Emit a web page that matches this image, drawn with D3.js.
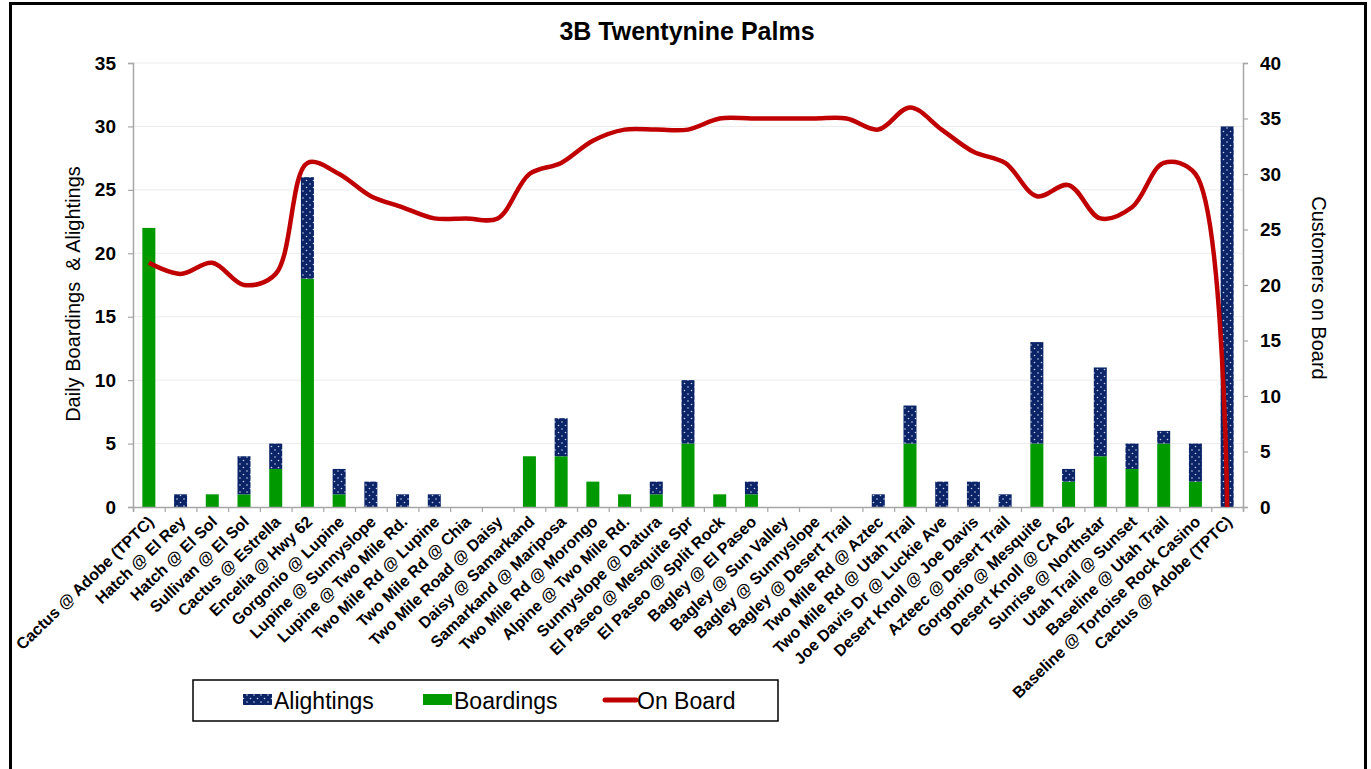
<!DOCTYPE html>
<html><head><meta charset="utf-8">
<script src="https://cdn.jsdelivr.net/npm/d3@7/dist/d3.min.js"></script>
<style>
html,body{margin:0;padding:0;background:#fff;}
svg{display:block;font-family:"Liberation Sans",Arial,sans-serif;}
</style></head>
<body><svg id="chart" width="1371" height="769"></svg>
<script>
const categories = ["Cactus @ Adobe (TPTC)","Hatch @ El Rey","Hatch @ El Sol","Sullivan @ El Sol","Cactus @ Estrella","Encelia @ Hwy 62","Gorgonio @ Lupine","Lupine @ Sunnyslope","Lupine @ Two Mile Rd.","Two Mile Rd @ Lupine","Two Mile Rd @ Chia","Two Mile Road @ Daisy","Daisy @ Samarkand","Samarkand @ Mariposa","Two Mile Rd @ Morongo","Alpine @ Two Mile Rd.","Sunnyslope @ Datura","El Paseo @ Mesquite Spr","El Paseo @ Split Rock","Bagley @ El Paseo","Bagley @ Sun Valley","Bagley @ Sunnyslope","Bagley @ Desert Trail","Two Mile Rd @ Aztec","Two Mile Rd @ Utah Trail","Joe Davis Dr @ Luckie Ave","Desert Knoll @ Joe Davis","Azteec @ Desert Trail","Gorgonio @ Mesquite","Desert Knoll @ CA 62","Sunrise @ Northstar","Utah Trail @ Sunset","Baseline @ Utah Trail","Baseline @ Tortoise Rock Casino","Cactus @ Adobe (TPTC)"];
const boardings  = [22,0,1,1,3,18,1,0,0,0,0,0,4,4,2,1,1,5,1,1,0,0,0,0,5,0,0,0,5,2,4,3,5,2,0];
const alightings = [0,1,0,3,2,8,2,2,1,1,0,0,0,3,0,0,1,5,0,1,0,0,0,1,3,2,2,1,8,1,7,2,1,3,30];
const onBoard    = [22,21,22,20,21,31,30,28,27,26,26,26,30,31,33,34,34,34,35,35,35,35,35,34,36,34,32,31,28,29,26,27,31,30,0];
const leftTicks  = [0,5,10,15,20,25,30,35];
const rightTicks = [0,5,10,15,20,25,30,35,40];

const svg = d3.select("#chart");
const L = 133, R = 1243, T = 63, B = 507;

// pattern
const defs = svg.append("defs");
const pat = defs.append("pattern").attr("id","dots").attr("patternUnits","userSpaceOnUse")
  .attr("width",7).attr("height",7);
pat.append("rect").attr("width",7).attr("height",7).attr("fill","#0b2468");
pat.append("circle").attr("cx",2).attr("cy",2).attr("r",0.8).attr("fill","#c8d0e8");
pat.append("circle").attr("cx",5.5).attr("cy",5.5).attr("r",0.8).attr("fill","#c8d0e8");

// frame
svg.append("rect").attr("x",10.5).attr("y",3.5).attr("width",1355).attr("height",800)
  .attr("fill","none").attr("stroke","#000").attr("stroke-width",3);

const x = d3.scaleBand().domain(d3.range(categories.length)).range([L,R]).paddingInner(0.59).paddingOuter(0.295);
const xb = d3.scaleLinear().domain([0,categories.length]).range([L,R]);
const yL = d3.scaleLinear().domain([0,35]).range([B,T]);
const yR = d3.scaleLinear().domain([0,40]).range([B,T]);

// gridlines
svg.append("g").selectAll("line").data(leftTicks.slice(1)).join("line")
  .attr("x1",L).attr("x2",R).attr("y1",d=>yL(d)).attr("y2",d=>yL(d))
  .attr("stroke","#ececec").attr("stroke-width",1);

// bars
const stack = categories.map((c,i)=>({i, b:boardings[i], a:alightings[i]}));
svg.append("g").selectAll("rect").data(stack).join("rect")
  .attr("x",d=>x(d.i)).attr("width",x.bandwidth())
  .attr("y",d=>yL(d.b)).attr("height",d=>yL(0)-yL(d.b)).attr("fill","#009a00");
svg.append("g").selectAll("rect").data(stack).join("rect")
  .attr("x",d=>x(d.i)).attr("width",x.bandwidth())
  .attr("y",d=>yL(d.b+d.a)).attr("height",d=>yL(d.b)-yL(d.b+d.a)).attr("fill","url(#dots)");

// axes
const axL = svg.append("g").attr("transform",`translate(${L},0)`)
  .call(d3.axisLeft(yL).tickValues(leftTicks).tickSize(5).tickPadding(12));
const axR = svg.append("g").attr("transform",`translate(${R},0)`)
  .call(d3.axisRight(yR).tickValues(rightTicks).tickSize(5).tickPadding(12));
const axB = svg.append("g").attr("transform",`translate(0,${B})`)
  .call(d3.axisBottom(xb).tickValues(d3.range(categories.length+1)).tickSize(5).tickFormat(""));
[axL,axR,axB].forEach(g=>{
  g.select(".domain").attr("stroke","#a6a6a6").attr("stroke-width",1.5);
  g.selectAll(".tick line").attr("stroke","#a6a6a6").attr("stroke-width",1.2);
  g.selectAll(".tick text").attr("fill","#000").attr("font-size",19).attr("font-weight","bold")
   .attr("font-family","'Liberation Sans',Arial,sans-serif");
});

// x labels
const axLab = svg.append("g").attr("transform",`translate(0,${B})`)
  .call(d3.axisBottom(x).tickSize(0).tickFormat(i=>categories[i]));
axLab.select(".domain").remove();
axLab.selectAll(".tick text").attr("fill","#000").attr("font-size",16).attr("font-weight","bold")
  .attr("font-family","'Liberation Sans',Arial,sans-serif")
  .attr("text-anchor","end").attr("dy",0).attr("y",0)
  .attr("transform","translate(6,16) rotate(-44)");

// line
const line = d3.line().x((d,i)=>x(i)+x.bandwidth()/2).y(d=>yR(d)).curve(d3.curveCatmullRom.alpha(0.5));
svg.append("path").datum(onBoard).attr("d",line).attr("fill","none")
  .attr("stroke","#c00000").attr("stroke-width",4.5).attr("stroke-linejoin","round");

// titles
svg.append("text").attr("x",687).attr("y",40).attr("text-anchor","middle")
  .attr("font-size",25).attr("font-weight","bold").text("3B Twentynine Palms");
svg.append("text").attr("transform","translate(80,294) rotate(-90)").attr("text-anchor","middle")
  .attr("font-size",20).text("Daily Boardings  & Alightings").style("white-space","pre");
svg.append("text").attr("transform","translate(1312,288) rotate(90)").attr("text-anchor","middle")
  .attr("font-size",20).text("Customers on Board");

// legend
const lg = svg.append("g");
lg.append("rect").attr("x",193).attr("y",680).attr("width",585).attr("height",41)
  .attr("fill","#fff").attr("stroke","#000").attr("stroke-width",1.5);
lg.append("rect").attr("x",243).attr("y",694).attr("width",29).attr("height",11).attr("fill","url(#dots)");
lg.append("text").attr("x",274).attr("y",709).attr("font-size",23).text("Alightings");
lg.append("rect").attr("x",423).attr("y",694).attr("width",29).attr("height",11).attr("fill","#009a00");
lg.append("text").attr("x",454).attr("y",709).attr("font-size",23).text("Boardings");
lg.append("line").attr("x1",605).attr("x2",636).attr("y1",700).attr("y2",700)
  .attr("stroke","#c00000").attr("stroke-width",5).attr("stroke-linecap","round");
lg.append("text").attr("x",637).attr("y",709).attr("font-size",23).text("On Board");
</script></body></html>
